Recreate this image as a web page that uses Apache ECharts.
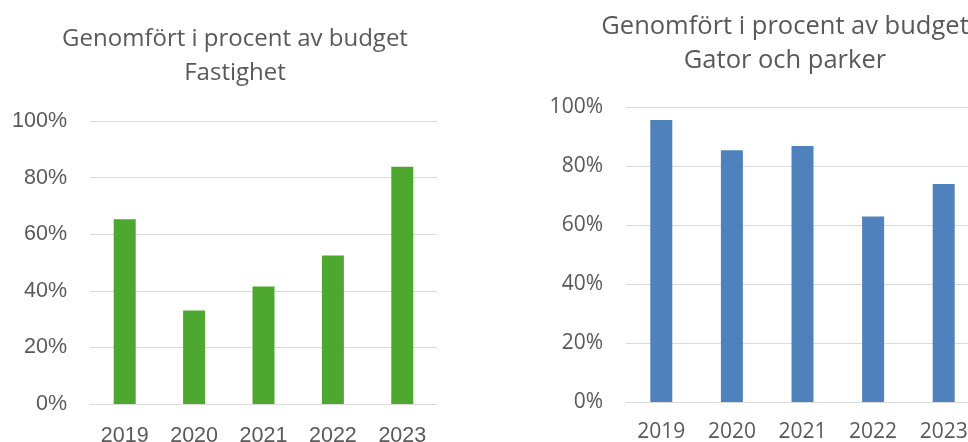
<!DOCTYPE html>
<html>
<head>
<meta charset="utf-8">
<script src="https://cdn.jsdelivr.net/npm/echarts@6/dist/echarts.min.js"></script>
<style>
html,body{margin:0;padding:0;background:#fff;}
#chart{width:968px;height:442px;}
</style>
</head>
<body>
<div id="chart"></div>
<script>
const categories = ['2019', '2020', '2021', '2022', '2023'];
const fastighetValues = [65.3, 33, 41.5, 52.5, 83.8];
const gatorValues = [95.6, 85.3, 86.8, 62.9, 73.9];
const yTicks = [0, 20, 40, 60, 80, 100];
const titleLeft = 'Genomfört i procent av budget\nFastighet';
const titleRight = 'Genomfört i procent av budget\nGator och parker';

const FONT = '"Open Sans", "Liberation Sans", sans-serif';
const FONT_L = '"Liberation Sans", Arial, sans-serif';
const TXT = '#595959';
const GRIDC = '#d9d9d9';

function yAxis(idx, font, size) {
  return {
    type: 'value', gridIndex: idx, min: yTicks[0], max: yTicks[yTicks.length - 1], interval: 20,
    axisLine: {show: false}, axisTick: {show: false},
    splitLine: {lineStyle: {color: GRIDC, width: 1}},
    axisLabel: {formatter: v => v + '%', color: TXT, fontSize: size, fontFamily: font, margin: 23}
  };
}
function xAxis(idx, font, size, margin) {
  return {
    type: 'category', gridIndex: idx, data: categories,
    axisLine: {show: true, lineStyle: {color: GRIDC, width: 1}},
    axisTick: {show: false},
    axisLabel: {color: TXT, fontSize: size, fontFamily: font, margin: margin}
  };
}

const chart = echarts.init(document.getElementById('chart'), null, {renderer: 'canvas'});
chart.setOption({
  animation: false,
  backgroundColor: '#fff',
  title: [
    {text: titleLeft, left: 230, top: 17, textAlign: 'center',
     textStyle: {color: TXT, fontSize: 24, fontWeight: 'normal', fontFamily: FONT, lineHeight: 34}},
    {text: titleRight, left: 780, top: 5, textAlign: 'center',
     textStyle: {color: TXT, fontSize: 25.5, fontWeight: 'normal', fontFamily: FONT, lineHeight: 34}}
  ],
  grid: [
    {left: 90, right: 531, top: 121, bottom: 38, containLabel: false, outerBoundsMode: 'none'},
    {left: 626, right: -11, top: 107, bottom: 40, containLabel: false, outerBoundsMode: 'none'}
  ],
  xAxis: [xAxis(0, FONT_L, 21.5, 21), xAxis(1, FONT, 21, 20)],
  yAxis: [yAxis(0, FONT_L, 21.5), yAxis(1, FONT, 21)],
  series: [
    {type: 'bar', xAxisIndex: 0, yAxisIndex: 0, data: fastighetValues, barWidth: 22,
     itemStyle: {color: '#4ea72e'}},
    {type: 'bar', xAxisIndex: 1, yAxisIndex: 1, data: gatorValues, barWidth: 22,
     itemStyle: {color: '#4f81bd'}}
  ]
});
</script>
</body>
</html>
